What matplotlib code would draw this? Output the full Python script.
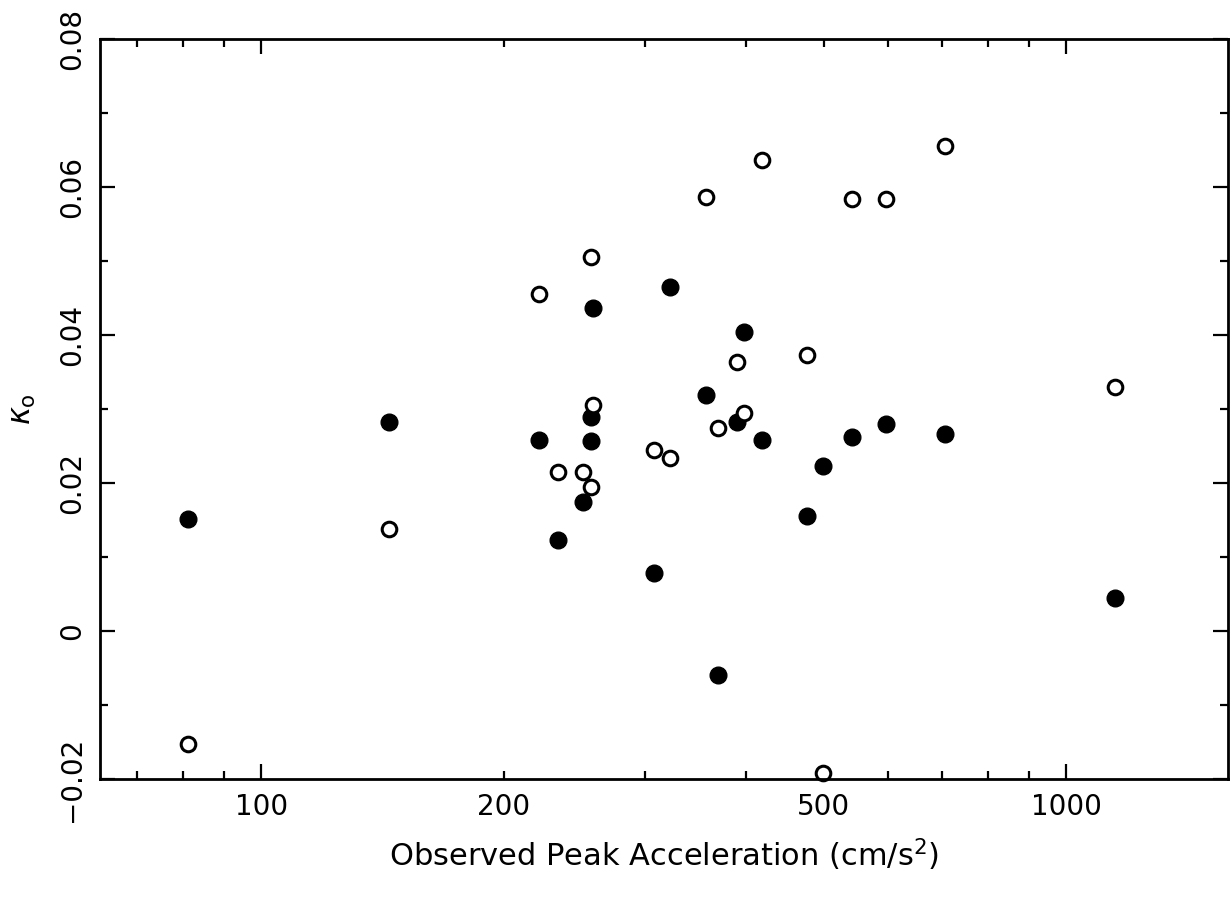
import matplotlib
matplotlib.use("Agg")
import matplotlib.pyplot as plt
from matplotlib.ticker import FixedLocator, FixedFormatter, MultipleLocator, NullFormatter

# Peak acceleration (cm/s^2) shared by both symbol sets
accel = [81, 144, 221.5, 234, 251, 256.5, 256.5, 258.5, 307.5, 321.5, 357,
         369.5, 390, 397.5, 419, 476, 499, 542, 597, 708, 1149]

# kappa_o values, filled circles
kappa_filled = [0.0151, 0.0282, 0.0258, 0.0123, 0.0174, 0.0289, 0.0257, 0.0437,
                0.0078, 0.0465, 0.0319, -0.0059, 0.0282, 0.0404, 0.0258, 0.0156,
                0.0223, 0.0262, 0.0280, 0.0266, 0.0045]

# kappa_o values, open circles
kappa_open = [-0.0152, 0.0138, 0.0455, 0.0215, 0.0215, 0.0505, 0.0195, 0.0305,
              0.0245, 0.0234, 0.0586, 0.0274, 0.0363, 0.0295, 0.0637, 0.0373,
              -0.0192, 0.0584, 0.0584, 0.0655, 0.0330]

x_major = [100, 1000]
x_minor = [70, 80, 90, 200, 300, 400, 500, 600, 700, 800, 900]
x_labels = [100, 200, 500, 1000]
y_ticks = [-0.02, 0, 0.02, 0.04, 0.06, 0.08]
y_labels = ["\u22120.02", "0", "0.02", "0.04", "0.06", "0.08"]

plt.rcParams['font.family'] = 'DejaVu Sans'

fig = plt.figure(figsize=(12.32, 9.05), dpi=100)
ax = fig.add_axes([0.081, 0.139, 0.916, 0.818])

ax.plot(accel, kappa_filled, 'o', color='black', markersize=12, clip_on=False)
ax.plot(accel, kappa_open, 'o', markerfacecolor='white', markeredgecolor='black',
        markeredgewidth=2.2, markersize=10.5, clip_on=False)

ax.set_xscale('log')
ax.set_xlim(63, 1590)
ax.set_ylim(-0.02, 0.08)

# x ticks: long ticks at decades, short ones elsewhere, labels at 100/200/500/1000
ax.xaxis.set_major_locator(FixedLocator(x_major))
ax.xaxis.set_major_formatter(NullFormatter())
ax.xaxis.set_minor_locator(FixedLocator(x_minor))
ax.xaxis.set_minor_formatter(NullFormatter())
for v in x_labels:
    ax.text(v, -0.0218, str(v), ha='center', va='top', fontsize=20)

ax.yaxis.set_major_locator(FixedLocator(y_ticks))
ax.yaxis.set_major_formatter(FixedFormatter(y_labels))
ax.yaxis.set_minor_locator(MultipleLocator(0.01))

ax.tick_params(which='both', direction='in', top=True, right=True, width=1.6)
ax.tick_params(which='major', length=11)
ax.tick_params(which='minor', length=6)
ax.tick_params(axis='y', which='major', labelsize=20, labelrotation=90, pad=10)
for lbl in ax.get_yticklabels():
    lbl.set_va('center')

for sp in ax.spines.values():
    sp.set_linewidth(2)

ax.set_xlabel('Observed Peak Acceleration (cm/s$^2$)', fontsize=22, labelpad=38)
ax.set_ylabel(r'$\kappa_{\rm o}$', fontsize=22, labelpad=14)

plt.savefig('out.png', dpi=100)
